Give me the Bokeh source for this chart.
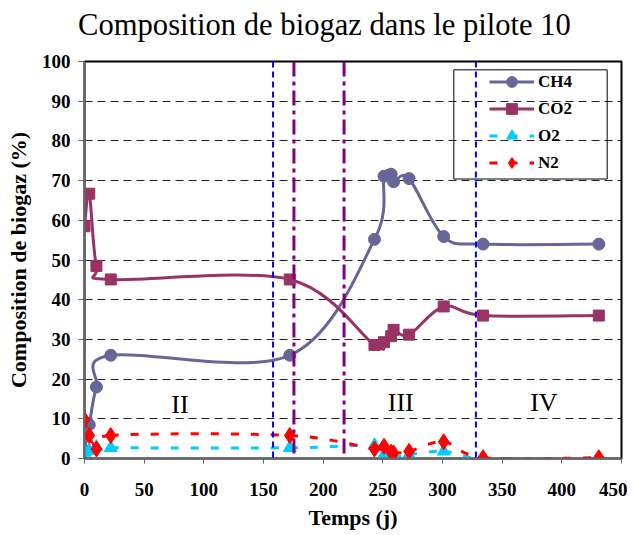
import numpy as np
from bokeh.plotting import figure
from bokeh.layouts import column
from bokeh.models import (Range1d, FixedTicker, Legend, LegendItem, BoxAnnotation,
                          Span, ColumnDataSource, Div)
from bokeh.core.properties import value
from bokeh.embed import file_html
from bokeh.resources import INLINE

# ---- data ----
days = [0, 4, 10, 22, 172, 243, 251, 257, 259, 272, 301, 334, 431]
ch4 = [2.0, 8.5, 18.0, 26.0, 26.0, 55.2, 71.1, 71.6, 69.7, 70.5, 55.9, 54.0, 54.0]
co2 = [58.5, 66.7, 48.5, 45.1, 45.1, 28.6, 29.3, 30.8, 32.4, 31.2, 38.3, 36.0, 36.0]
o2 = [1.5, 2.0, 2.9, 2.7, 2.7, 3.3, 1.0, 0.5, 0.3, 1.0, 1.8, 0.0, 0.0]
n2 = [9.8, 5.8, 2.4, 5.8, 5.8, 2.4, 3.1, 1.6, 1.4, 1.8, 4.2, 0.2, 0.2]

series_names = ["CH4", "CO2", "O2", "N2"]
blue_phase_days = [158, 328]
purple_phase_days = [175.5, 217.5]
phase_labels = ["II", "III", "IV"]
phase_label_x = [80, 265, 385]
phase_label_y = [13.5, 14, 14]
x_ticks = [0, 50, 100, 150, 200, 250, 300, 350, 400, 450]
y_ticks = [0, 10, 20, 30, 40, 50, 60, 70, 80, 90, 100]
title_text = "Composition de biogaz dans le pilote 10"

SERIF = "Liberation Serif"


def smooth_controls(xs, ys):
    """Bezier control points of an Excel-like smoothed line through the points."""
    x = np.asarray(xs, float)
    y = np.asarray(ys, float)
    n = len(x)
    xp = np.concatenate([[x[0]], x, [x[-1]]])
    yp = np.concatenate([[y[0]], y, [y[-1]]])
    return dict(
        x0=x[:-1], y0=y[:-1], x1=x[1:], y1=y[1:],
        cx0=x[:-1] + (xp[2:n + 1] - xp[0:n - 1]) / 6.0,
        cy0=y[:-1] + (yp[2:n + 1] - yp[0:n - 1]) / 6.0,
        cx1=x[1:] - (xp[3:n + 2] - xp[1:n]) / 6.0,
        cy1=y[1:] - (yp[3:n + 2] - yp[1:n]) / 6.0,
    )


title_div = Div(text=title_text, width=627, height=44, margin=(0, 0, 0, 0),
                styles={"font-family": SERIF, "font-size": "30.6px",
                        "color": "black", "text-align": "center",
                        "line-height": "38px", "padding-top": "6px",
                        "padding-left": "22px", "box-sizing": "border-box",
                        "white-space": "nowrap"})

p = figure(width=627, height=488, output_backend="svg", toolbar_location=None,
           title=None, x_range=Range1d(0, 450), y_range=Range1d(0, 100),
           min_border_left=84, min_border_right=6, min_border_top=17,
           min_border_bottom=73)

p.background_fill_color = "white"
p.outline_line_color = "black"
p.outline_line_width = 2
p.outline_line_alpha = 1

p.xgrid.grid_line_color = None
p.ygrid.grid_line_color = "#222222"
p.ygrid.grid_line_dash = "8 5"
p.ygrid.grid_line_width = 1
p.ygrid.ticker = FixedTicker(ticks=y_ticks)

for ax, ticks in ((p.xaxis[0], x_ticks), (p.yaxis[0], y_ticks)):
    ax.ticker = FixedTicker(ticks=ticks)
    ax.axis_line_color = "#666666"
    ax.axis_line_width = 2
    ax.major_tick_line_color = "#666666"
    ax.major_tick_line_width = 1
    ax.major_tick_in = 0
    ax.minor_tick_line_color = None
    ax.major_label_text_font = SERIF
    ax.major_label_text_font_style = "bold"
    ax.major_label_text_font_size = "19px"
    ax.major_label_text_color = "black"
    ax.axis_label_text_font = SERIF
    ax.axis_label_text_font_style = "bold"
    ax.axis_label_text_font_size = "22px"
    ax.axis_label_text_color = "black"

p.xaxis.axis_label = "Temps (j)"
p.xaxis.major_tick_out = 5
p.xaxis.major_label_standoff = 19
p.xaxis.axis_label_standoff = 6
p.yaxis.axis_label = "Composition de biogaz (%)"
p.yaxis.major_tick_out = 6
p.yaxis.major_label_standoff = 8
p.yaxis.axis_label_standoff = 8

styles = [
    dict(values=ch4, color="#666699", marker="circle", size=12, dash="solid"),
    dict(values=co2, color="#993366", marker="square", size=11, dash="solid"),
    dict(values=o2, color="#00CCFF", marker="triangle", size=13, dash="8 12"),
    dict(values=n2, color="#FF0000", marker="diamond", size=16, dash="8 12"),
]

items = []
for name, st in zip(series_names, styles):
    ctrl = smooth_controls(days, st["values"])
    br = p.bezier(x0="x0", y0="y0", x1="x1", y1="y1", cx0="cx0", cy0="cy0",
                  cx1="cx1", cy1="cy1", source=ColumnDataSource(ctrl),
                  line_color=st["color"], line_width=3, line_dash=st["dash"])
    sr = p.scatter(days, st["values"], marker=st["marker"], size=st["size"],
                   fill_color=st["color"], line_color=st["color"])
    items.append(LegendItem(label=name, renderers=[br, sr]))

# phase labels
p.text(x=phase_label_x, y=phase_label_y, text=phase_labels,
       text_font=value(SERIF), text_font_size="26px", text_align="center",
       text_baseline="middle", text_color="black")

# phase boundaries
for d in blue_phase_days:
    p.add_layout(Span(location=d, dimension="height", line_color="#0000FF",
                      line_width=2, line_dash="6 4"))
for d in purple_phase_days:
    p.add_layout(Span(location=d, dimension="height", line_color="#800080",
                      line_width=3, line_dash="15 5 4 5"))

# legend frame
p.add_layout(BoxAnnotation(left=309.5, right=438, bottom=70.4, top=97.9,
                           fill_alpha=0, line_color="black", line_alpha=1,
                           line_width=1, level="overlay"))

legend = Legend(items=items, location=(405, 282), glyph_width=45,
                glyph_height=27, label_height=27, spacing=0, padding=0,
                margin=0, label_standoff=4, label_text_font=SERIF,
                label_text_font_style="bold", label_text_font_size="17px",
                label_text_color="black",
                background_fill_alpha=0, border_line_alpha=0)
p.add_layout(legend)

layout = column(title_div, p, spacing=0)
open("out.html", "w").write(file_html(layout, INLINE))
